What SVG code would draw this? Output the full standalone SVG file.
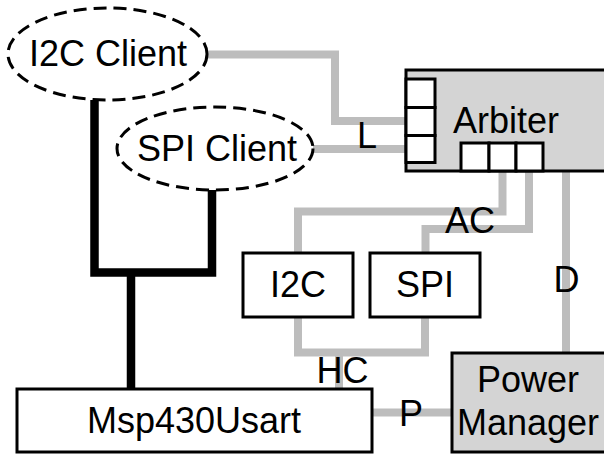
<svg xmlns="http://www.w3.org/2000/svg" width="604" height="454" viewBox="0 0 604 454">
  <style>
    .lbl { font-family: "Liberation Sans", Arial, Helvetica, sans-serif; font-size: 36px; fill: #000; }
    .mid { text-anchor: middle; }
    .wire { fill: none; stroke: #bdbdbd; stroke-width: 8; stroke-linejoin: miter; stroke-linecap: butt; }
    .bus { fill: none; stroke: #000; stroke-width: 8.5; stroke-linejoin: miter; stroke-linecap: butt; }
    .box { fill: #fff; stroke: #000; stroke-width: 3; }
    .shaded { fill: #d4d4d4; stroke: #000; stroke-width: 3; }
    .client { fill: #fff; stroke: #000; stroke-width: 3; stroke-dasharray: 13 7; }
    .port { fill: #fff; stroke: #000; stroke-width: 3; }
  </style>
  <rect width="604" height="454" fill="#fff"/>

  <!-- connectors -->
  <g id="connectors">
    <path class="wire" d="M207,54.5 H335 V121 H406"/>
    <path class="wire" d="M313,149 H406"/>
    <path class="wire" d="M502.5,171 V211.5 H298 V253"/>
    <path class="wire" d="M529,171 V229 H425.5 V253"/>
    <path class="wire" d="M566,171 V353"/>
    <path class="wire" d="M298,317 V352.5 H425 V317"/>
    <path class="wire" d="M339,352.5 V389"/>
    <path class="wire" d="M372,412.5 H452"/>
    <path class="bus" d="M94.5,100 V272.5 H212 V190"/>
    <path class="bus" d="M131,272.5 V389"/>
    <text class="lbl" x="357" y="148">L</text>
    <text class="lbl mid" x="470" y="233">AC</text>
    <text class="lbl mid" x="566.5" y="292">D</text>
    <text class="lbl mid" x="342.5" y="383">HC</text>
    <text class="lbl mid" x="411" y="426">P</text>
  </g>

  <g id="i2c-client">
    <ellipse class="client" cx="107.5" cy="54" rx="99.5" ry="46"/>
    <text class="lbl mid" x="108" y="66">I2C Client</text>
  </g>

  <g id="spi-client">
    <ellipse class="client" cx="215" cy="148.5" rx="98" ry="41.5"/>
    <text class="lbl mid" x="217" y="161">SPI Client</text>
  </g>

  <g id="arbiter">
    <rect class="shaded" x="406" y="70" width="210" height="101"/>
    <rect class="port" x="406" y="79" width="29" height="28.5"/>
    <rect class="port" x="406" y="107.5" width="29" height="28"/>
    <rect class="port" x="406" y="135.5" width="29" height="27"/>
    <rect class="port" x="461" y="143" width="28" height="28"/>
    <rect class="port" x="489" y="143" width="27" height="28"/>
    <rect class="port" x="516" y="143" width="27" height="28"/>
    <text class="lbl mid" x="506" y="133">Arbiter</text>
  </g>

  <g id="i2c">
    <rect class="box" x="243" y="253" width="110" height="64"/>
    <text class="lbl mid" x="298" y="297">I2C</text>
  </g>

  <g id="spi">
    <rect class="box" x="370" y="253" width="110" height="64"/>
    <text class="lbl mid" x="425" y="297">SPI</text>
  </g>

  <g id="msp430usart">
    <rect class="box" x="17" y="389" width="355" height="63"/>
    <text class="lbl mid" x="194" y="433">Msp430Usart</text>
  </g>

  <g id="power-manager">
    <rect class="shaded" x="452" y="353" width="170" height="99"/>
    <text class="lbl mid" x="528" y="392">Power</text>
    <text class="lbl mid" x="528" y="435">Manager</text>
  </g>
</svg>
